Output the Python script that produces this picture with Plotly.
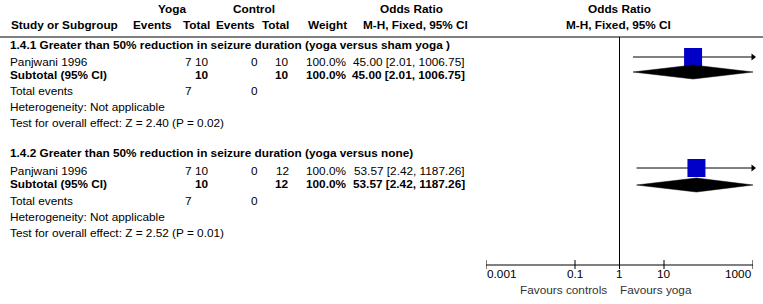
import math
import plotly.graph_objects as go

# ---------------- data ----------------
subgroup_titles = [
    "1.4.1 Greater than 50% reduction in seizure duration (yoga versus sham yoga )",
    "1.4.2 Greater than 50% reduction in seizure duration (yoga versus none)",
]
study_names = ["Panjwani 1996", "Panjwani 1996"]
yoga_events = [7, 7]
yoga_total = [10, 10]
ctrl_events = [0, 0]
ctrl_total = [10, 12]
weights = [100.0, 100.0]
or_est = [45.00, 53.57]
ci_low = [2.01, 2.42]
ci_high = [1006.75, 1187.26]
z_values = [2.40, 2.52]
p_values = [0.02, 0.01]
tick_values = [0.001, 0.1, 1, 10, 1000]
tick_labels = ["0.001", "0.1", "1", "10", "1000"]
favours_left = "Favours controls"
favours_right = "Favours yoga"

# ---------------- layout constants ----------------
W, H = 763, 304
AX_MIN, AX_MAX = 0.001, 1000
AX_X0, AX_X1 = 486, 753
FONT = "Arial, Liberation Sans, sans-serif"
FS = 11.8

# pixel rows per section: title, study, subtotal, total, het, test, square, diamond
ROWS = [
    dict(title=45, study=62, subtotal=75, total=91, het=107, test=123, sq=57, dia=72),
    dict(title=153, study=171, subtotal=184, total=201, het=217, test=233, sq=168, dia=185),
]

fig = go.Figure()
ann = []

def txt(x, y, s, anchor="left", bold=False, size=FS, color="black"):
    ann.append(dict(x=x / W, y=y, xref="paper", yref="y", text=("<b>%s</b>" % s) if bold else s,
                    showarrow=False, xanchor=anchor, yanchor="middle",
                    font=dict(family=FONT, size=size, color=color), borderpad=0))

# headers
txt(172, 9, "Yoga", "center", True)
txt(254, 9, "Control", "center", True)
txt(411, 9, "Odds Ratio", "center", True)
txt(619, 9, "Odds Ratio", "center", True)
txt(10, 25, "Study or Subgroup", "left", True)
txt(173, 25, "Events", "right", True)
txt(211, 25, "Total", "right", True)
txt(256, 25, "Events", "right", True)
txt(290, 25, "Total", "right", True)
txt(348, 25, "Weight", "right", True)
txt(415, 25, "M-H, Fixed, 95% CI", "center", True)
txt(618, 25, "M-H, Fixed, 95% CI", "center", True)

COL_YE, COL_YT, COL_CE, COL_CT, COL_W, COL_CI = 193, 210, 259, 290, 348, 466

for i in range(2):
    r = ROWS[i]
    txt(9, r["title"], subgroup_titles[i], "left", True)
    y = r["study"]
    ci_str = "%.2f [%.2f, %.2f]" % (or_est[i], ci_low[i], ci_high[i])
    txt(9, y, study_names[i])
    txt(COL_YE, y, str(yoga_events[i]), "right")
    txt(COL_YT, y, str(yoga_total[i]), "right")
    txt(COL_CE, y, str(ctrl_events[i]), "right")
    txt(COL_CT, y, str(ctrl_total[i]), "right")
    txt(COL_W, y, "%.1f%%" % weights[i], "right")
    txt(COL_CI, y, ci_str, "right")
    y = r["subtotal"]
    txt(9, y, "Subtotal (95% CI)", "left", True)
    txt(COL_YT, y, str(yoga_total[i]), "right", True)
    txt(COL_CT, y, str(ctrl_total[i]), "right", True)
    txt(COL_W, y, "%.1f%%" % weights[i], "right", True)
    txt(COL_CI, y, ci_str, "right", True)
    y = r["total"]
    txt(9, y, "Total events")
    txt(COL_YE, y, str(yoga_events[i]), "right")
    txt(COL_CE, y, str(ctrl_events[i]), "right")
    txt(9, r["het"], "Heterogeneity: Not applicable")
    txt(9, r["test"], "Test for overall effect: Z = %.2f (P = %.2f)" % (z_values[i], p_values[i]))

    # plot marks
    ys = r["sq"]
    lo = max(ci_low[i], AX_MIN)
    hi = min(ci_high[i], AX_MAX)
    fig.add_trace(go.Scatter(x=[lo, hi], y=[ys, ys], mode="lines",
                             line=dict(color="black", width=1), hoverinfo="skip", showlegend=False,
                             cliponaxis=False))
    if ci_high[i] > AX_MAX:
        fig.add_trace(go.Scatter(x=[AX_MAX], y=[ys], mode="markers",
                                 marker=dict(symbol="triangle-right", size=6, color="black"),
                                 cliponaxis=False, hoverinfo="skip", showlegend=False))
    fig.add_trace(go.Scatter(x=[or_est[i]], y=[ys], mode="markers",
                             marker=dict(symbol="square", size=18, color="#0000C8", line=dict(width=0)),
                             hoverinfo="skip", showlegend=False))
    yd = r["dia"]
    fig.add_trace(go.Scatter(x=[lo, or_est[i], hi, or_est[i], lo], y=[yd, yd - 7, yd, yd + 7, yd],
                             mode="lines", fill="toself", fillcolor="black",
                             line=dict(color="black", width=0.5), hoverinfo="skip", showlegend=False))

# null line
fig.add_trace(go.Scatter(x=[1, 1], y=[37, 265], mode="lines", line=dict(color="black", width=1),
                         hoverinfo="skip", showlegend=False))
# axis line
fig.add_trace(go.Scatter(x=[AX_MIN, AX_MAX], y=[265, 265], mode="lines", line=dict(color="black", width=1),
                         hoverinfo="skip", showlegend=False, cliponaxis=False))
# ticks
tx, ty = [], []
for v in tick_values:
    tx += [v, v, None]
    ty += [260, 269, None]
fig.add_trace(go.Scatter(x=tx, y=ty, mode="lines", line=dict(color="black", width=1),
                         hoverinfo="skip", showlegend=False, cliponaxis=False))
for j, (v, lab) in enumerate(zip(tick_values, tick_labels)):
    anchor = "left" if j == 0 else ("right" if j == len(tick_values) - 1 else "center")
    ann.append(dict(x=math.log10(v), y=274, xref="x", yref="y", text=lab, showarrow=False,
                    xanchor=anchor, yanchor="middle", borderpad=0,
                    font=dict(family=FONT, size=FS, color="black")))
txt(563, 290, favours_left, "center", color="#333333")
txt(656, 290, favours_right, "center", color="#333333")

fig.update_layout(
    width=W, height=H, margin=dict(l=0, r=0, t=0, b=0),
    paper_bgcolor="white", plot_bgcolor="white",
    xaxis=dict(type="log", range=[math.log10(AX_MIN), math.log10(AX_MAX)],
               domain=[AX_X0 / W, AX_X1 / W], visible=False),
    yaxis=dict(range=[H, 0], domain=[0, 1], visible=False),
    annotations=ann,
    shapes=[dict(type="line", xref="paper", yref="y", x0=0, x1=1, y0=37, y1=37,
                 line=dict(color="black", width=1))],
    showlegend=False,
)

fig.write_html("out.html", config={"displayModeBar": False, "staticPlot": True},
               post_script="document.body.style.margin='0';document.body.style.overflow='hidden';")
